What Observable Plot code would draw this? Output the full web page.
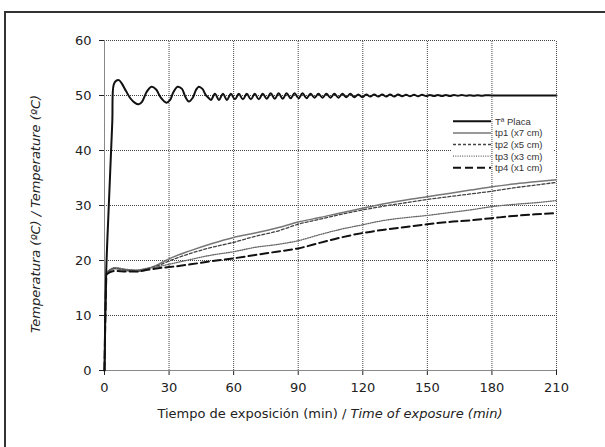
<!DOCTYPE html>
<html><head><meta charset="utf-8">
<script src="https://cdn.jsdelivr.net/npm/d3@7"></script>
<script src="https://cdn.jsdelivr.net/npm/@observablehq/plot@0.6"></script>
<style>
html,body{margin:0;padding:0;background:#fff;overflow:hidden;width:605px;height:447px;}
#frame{position:absolute;left:4px;top:11px;width:700px;height:600px;border:2px solid #333;box-sizing:border-box;}
#chart{position:absolute;left:0;top:0;}
</style></head><body>
<div id="frame"></div><div id="chart"></div>
<script>
// ---- data ----
const xTicks = [0, 30, 60, 90, 120, 150, 180, 210];
const yTicks = [0, 10, 20, 30, 40, 50, 60];
const seriesNames = ["Tª Placa", "tp1 (x7 cm)", "tp2 (x5 cm)", "tp3 (x3 cm)", "tp4 (x1 cm)"];

const placaTime = [0, 0.8, 2, 3.6, 4.3, 5.5, 6.7, 8, 10, 12, 14, 15.9, 17.5, 19.5, 21.8, 24, 26, 28.8, 30.5, 32, 34, 36, 37.5, 39.2, 41, 42.5, 43.8, 45.5, 47, 48.5,
  49.5, 51.3, 53.2, 55, 56.9, 58.7, 60.6, 62.4, 64.3, 66.1, 68, 69.8, 71.7, 73.5, 75.4, 77.2, 79.1, 80.9, 82.8, 84.6, 86.5, 88.3, 90.2, 92, 93.9, 95.7, 97.6, 99.4,
  101.3, 103.1, 105, 106.8, 108.7, 110.5, 112.4, 114.2, 116.1, 117.9, 119.8, 121.6, 123.5, 125.3, 127.2, 129, 130.9, 132.7, 134.6, 136.4, 138.3, 140.1, 142, 143.8,
  145.7, 147.5, 149.4, 151.2, 153.1, 154.9, 156.8, 158.6, 160.5, 162.3, 164.2, 166, 167.9, 169.7, 171.6, 173.4, 175.3, 177.1, 180, 190, 200, 210];
const placaTemp = [0, 18, 30, 45, 52, 52.7, 52.8, 52.2, 50.8, 49.5, 48.7, 48.4, 48.9, 50.6, 51.6, 51.1, 49.7, 48.7, 49.2, 50.6, 51.6, 51.2, 49.8, 48.9, 49.6, 51, 51.6, 51.2, 50.1, 49.5,
  49.2, 50.3, 49.2, 50.3, 49.2, 50.3, 49.3, 50.3, 49.3, 50.3, 49.3, 50.3, 49.3, 50.3, 49.4, 50.4, 49.4, 50.4, 49.4, 50.4, 49.5, 50.4, 49.5, 50.4, 49.5, 50.3, 49.6, 50.3,
  49.6, 50.3, 49.6, 50.3, 49.6, 50.3, 49.7, 50.3, 49.7, 50.2, 49.7, 50.2, 49.8, 50.2, 49.8, 50.2, 49.8, 50.2, 49.8, 50.2, 49.85, 50.15, 49.85, 50.15,
  49.85, 50.15, 49.9, 50.1, 49.9, 50.1, 49.9, 50.1, 49.9, 50.1, 49.95, 50.1, 49.95, 50.05, 49.95, 50.05, 49.95, 50.05, 50, 50, 50, 50];

const sensorTime = [0, 1, 5, 10, 15, 20, 25, 30, 40, 50, 60, 70, 80, 90, 100, 110, 120, 130, 140, 150, 160, 170, 180, 190, 200, 210];
const tp1 = [0, 17.6, 18.5, 18.2, 18.0, 18.5, 19.3, 20.3, 21.8, 23.1, 24.2, 25.0, 25.9, 27.0, 27.8, 28.7, 29.5, 30.3, 31.0, 31.6, 32.2, 32.8, 33.4, 33.9, 34.3, 34.7];
const tp2 = [0, 17.8, 18.6, 18.3, 18.1, 18.5, 19.1, 19.9, 21.3, 22.4, 23.3, 24.4, 25.3, 26.6, 27.5, 28.4, 29.2, 29.9, 30.5, 31.1, 31.6, 32.1, 32.6, 33.2, 33.7, 34.2];
const tp3 = [0, 17.8, 18.7, 18.4, 18.3, 18.6, 18.9, 19.3, 20.2, 21.0, 21.6, 22.4, 22.9, 23.6, 24.7, 25.7, 26.5, 27.3, 27.8, 28.2, 28.7, 29.2, 29.8, 30.2, 30.5, 30.9];
const tp4 = [0, 17.5, 18.1, 18.0, 18.0, 18.3, 18.6, 18.8, 19.3, 19.9, 20.4, 21.0, 21.6, 22.2, 23.2, 24.2, 25.0, 25.6, 26.1, 26.6, 27.0, 27.3, 27.7, 28.1, 28.4, 28.6];

const xLabelA = "Tiempo de exposición (min) / ";
const xLabelB = "Time of exposure (min)";
const yLabel = "Temperatura (ºC) / Temperature (ºC)";

// ---- build ----
const placa = placaTime.map((t, i) => ({t, v: placaTemp[i]}));
const mk = arr => sensorTime.map((t, i) => ({t, v: arr[i]}));
const sensors = [mk(tp1), mk(tp2), mk(tp3), mk(tp4)];

const styles = [
  {stroke: "#111", strokeWidth: 2, strokeDasharray: null},
  {stroke: "#777", strokeWidth: 1.5, strokeDasharray: null},
  {stroke: "#444", strokeWidth: 1.3, strokeDasharray: "3,2"},
  {stroke: "#666", strokeWidth: 1.3, strokeDasharray: "1,1.3"},
  {stroke: "#111", strokeWidth: 2, strokeDasharray: "8,4"}
];

const font = "'DejaVu Sans', Tahoma, sans-serif";
const gridStyle = {stroke: "#444", strokeWidth: 1, strokeDasharray: "1,1"};

const marks = [
  Plot.ruleY(yTicks.filter(d => d > 0), {...gridStyle, x1: 0, x2: 210}),
  Plot.ruleX(xTicks.filter(d => d > 0), {...gridStyle, y1: 0, y2: 60, ariaDescription: "vgrid"}),
  Plot.ruleX([0], {stroke: "#888", y1: 0, y2: 60}),
  Plot.ruleY([0], {stroke: "#888", x1: 0, x2: 210}),
];
sensors.forEach((s, i) => {
  const st = styles[i + 1];
  marks.push(Plot.line(s, {x: "t", y: "v", stroke: st.stroke, strokeWidth: st.strokeWidth, strokeDasharray: st.strokeDasharray || undefined, curve: "monotone-x"}));
});
marks.push(Plot.line(placa, {x: "t", y: "v", stroke: styles[0].stroke, strokeWidth: styles[0].strokeWidth, curve: "catmull-rom"}));

const plot = Plot.plot({
  width: 605, height: 447,
  marginLeft: 104, marginRight: 49, marginTop: 40, marginBottom: 77,
  style: {fontFamily: font, fontSize: "13px", background: "transparent", color: "#222"},
  x: {domain: [0, 210], ticks: xTicks, tickSize: 5, tickPadding: 7, label: null},
  y: {domain: [0, 60], ticks: yTicks, tickSize: 5, tickPadding: 8, label: null},
  marks
});
document.getElementById("chart").appendChild(plot);

const svg = d3.select(plot);
// legend background (below vertical grid)
svg.insert("rect", "g[aria-description='vgrid']")
  .attr("x", 452).attr("y", 111).attr("width", 101).attr("height", 66).attr("fill", "#fff");

const lg = svg.append("g").attr("font-family", "'Liberation Sans', Arial, sans-serif").attr("font-size", 9.5)
  .attr("fill", "#333").attr("text-anchor", "start");
seriesNames.forEach((name, i) => {
  const y = 121.3 + i * 11.6;
  const st = styles[i];
  const ln = lg.append("line").attr("x1", 453).attr("x2", 491).attr("y1", y).attr("y2", y)
    .attr("stroke", st.stroke).attr("stroke-width", st.strokeWidth);
  if (st.strokeDasharray) ln.attr("stroke-dasharray", st.strokeDasharray);
  lg.append("text").attr("x", 495).attr("y", y + 3.4).attr("text-anchor", "start").text(name);
});

// axis titles
const xt = svg.append("text").attr("x", 330).attr("y", 418).attr("text-anchor", "middle")
  .attr("font-family", font).attr("font-size", 13).attr("fill", "#222");
xt.append("tspan").text(xLabelA);
xt.append("tspan").attr("font-style", "italic").text(xLabelB);
svg.append("text").attr("transform", "translate(40,214) rotate(-90)").attr("text-anchor", "middle")
  .attr("font-family", font).attr("font-size", 13).attr("font-style", "italic").attr("fill", "#222").text(yLabel);
</script>
</body></html>
